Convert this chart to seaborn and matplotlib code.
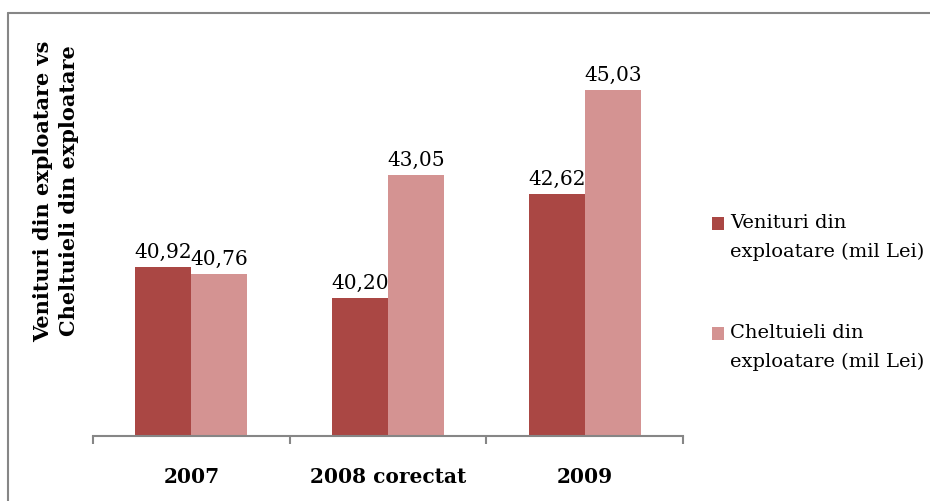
import pandas as pd
import matplotlib
matplotlib.use("Agg")
import matplotlib.pyplot as plt
import matplotlib.ticker as mticker
from matplotlib.lines import Line2D
import seaborn as sns

# data
years = ["2007", "2008 corectat", "2009"]
venituri = [40.92, 40.20, 42.62]
cheltuieli = [40.76, 43.05, 45.03]
series_names = ["Venituri din\nexploatare (mil Lei)", "Cheltuieli din\nexploatare (mil Lei)"]
y_title = "Venituri din exploatare vs\nCheltuieli din exploatare"

df = pd.DataFrame({
    "an": years * 2,
    "valoare": venituri + cheltuieli,
    "serie": [series_names[0]] * 3 + [series_names[1]] * 3,
})

sns.set_theme(style="white")
plt.rcParams["font.family"] = ["DejaVu Serif"]
plt.rcParams["text.color"] = "black"
plt.rcParams["xtick.color"] = "black"

fig = plt.figure(figsize=(9.3, 5.01), dpi=100)
ax = fig.add_axes([93 / 930, 1 - 436 / 501, 590 / 930, 404.8 / 501])

palette = ["#AA4744", "#D49392"]
sns.barplot(data=df, x="an", y="valoare", hue="serie", palette=palette,
            width=0.57, saturation=1, linewidth=0, ax=ax, legend=True)

for cont in ax.containers:
    labels = [f"{b.get_height():.2f}".replace(".", ",") for b in cont]
    ax.bar_label(cont, labels=labels, padding=4, fontsize=14.5, color="black")

ax.set_ylim(37, 46.4)
ax.set_xlim(-0.5, 2.5)
ax.set_yticks([])
ax.set_ylabel("")
ax.set_xlabel("")

for s in ["top", "right", "left"]:
    ax.spines[s].set_visible(False)
ax.spines["bottom"].set_color("#868686")
ax.spines["bottom"].set_linewidth(1.5)

# boundary ticks between categories, labels in the middle
ax.xaxis.set_major_locator(mticker.FixedLocator([-0.5, 0.5, 1.5, 2.5]))
ax.xaxis.set_major_formatter(mticker.NullFormatter())
ax.xaxis.set_minor_locator(mticker.FixedLocator([0, 1, 2]))
ax.xaxis.set_minor_formatter(mticker.FixedFormatter(years))
ax.tick_params(axis="x", which="major", direction="out", length=6, width=1.5,
               color="#868686", bottom=True)
ax.tick_params(axis="x", which="minor", length=0, pad=22, labelsize=14.5,
               labelcolor="black")
for t in ax.xaxis.get_minorticklabels():
    t.set_fontweight("bold")

fig.text(56 / 930, 1 - 191 / 501, y_title, rotation=90, ha="center", va="center",
         fontsize=15, fontweight="bold", linespacing=1.4, color="black")

leg = ax.legend(loc="upper left", bbox_to_anchor=(702 / 930, 1 - 204 / 501),
                bbox_transform=fig.transFigure, frameon=False, fontsize=14,
                handlelength=0.65, handleheight=0.65, handletextpad=0.3,
                labelspacing=3.2, borderpad=0)
for txt in leg.get_texts():
    txt.set_color("black")
    txt.set_linespacing(1.8)
# square marker sits beside the first line of each label, as in the reference
for h in leg.legend_handles:
    h.set_y(h.get_y() + 10)

# grey frame (left and top edge visible in the reference)
fig.add_artist(Line2D([7.5 / 930, 7.5 / 930], [0, 1 - 13 / 501], transform=fig.transFigure,
                      color="#868686", linewidth=1.5))
fig.add_artist(Line2D([7.5 / 930, 1], [1 - 13 / 501, 1 - 13 / 501], transform=fig.transFigure,
                      color="#868686", linewidth=1.5))

fig.savefig("out.png", dpi=100)
